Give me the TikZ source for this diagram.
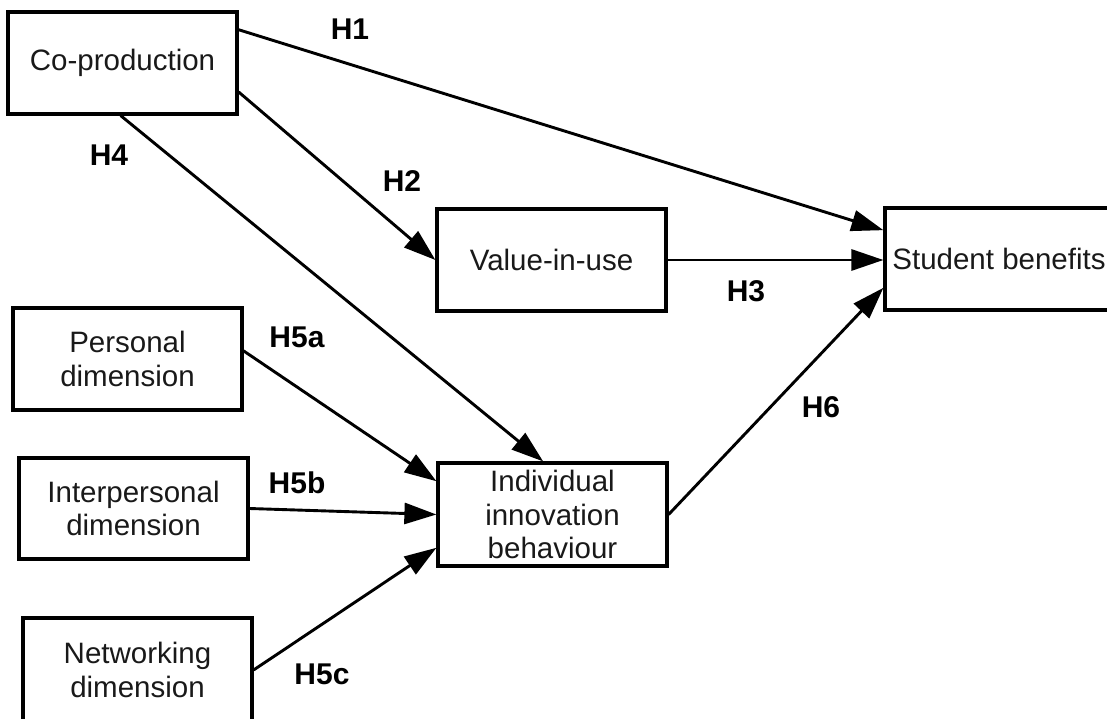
\documentclass[tikz,border=0pt]{standalone}
\usepackage{fontspec}
\setmainfont{Liberation Sans}
\usetikzlibrary{arrows.meta}
\begin{document}
\begin{tikzpicture}[x=1pt,y=-1pt,
  box/.style={draw, line width=3.2pt, inner sep=0pt, minimum width=229pt,
    minimum height=102pt, align=center, text=black!90,
    font=\fontsize{29.5}{33.5}\selectfont},
  hyp/.style={font=\bfseries\fontsize{30}{30}\selectfont, inner sep=0pt},
  link/.style={line width=2.9pt, -{Triangle[length=32pt,width=21pt]}}]
\clip (0,0) rectangle (1107,719);

% constructs
\node[box] (cop)   at (122.5,63)    {Co-production};
\node[box] (vin)   at (551.5,260)   {Value-in-use};
\node[box, minimum width=228pt] (sb) at (999,259) {Student benefits};
\node[box] (pers)  at (127.5,359)   {Personal\\dimension};
\node[box, minimum height=101pt] (inter) at (133.5,508.5) {Interpersonal\\dimension};
\node[box, minimum height=104pt] (net)   at (137.5,670)   {Networking\\dimension};
\node[box, minimum height=103pt] (iib)   at (552.5,514.5) {Individual\\innovation\\behaviour};

% hypothesised paths
\draw[link] (cop.16)  -- (sb.166);
\draw[link] (cop.-14) -- (vin.west);
\draw[link] (vin.east) -- (vin.east -| sb.west);
\draw[link] (cop.268) -- (iib.100);
\draw[link] (pers.4)  -- (iib.164);
\draw[link] (inter.east) -- (iib.west);
\draw[link] (net.east) -- (iib.196);
\draw[link] (iib.east) -- (sb.194);

% hypothesis labels
\node[hyp] (h1)  at (350,29)  {H1};
\node[hyp] (h2)  at (402,181) {H2};
\node[hyp] (h3)  at (746,291) {H3};
\node[hyp] (h4)  at (109,155) {H4};
\node[hyp] (h5a) at (297,337) {H5a};
\node[hyp] (h5b) at (297,483) {H5b};
\node[hyp] (h5c) at (322,674) {H5c};
\node[hyp] (h6)  at (821,407) {H6};
\end{tikzpicture}
\end{document}
